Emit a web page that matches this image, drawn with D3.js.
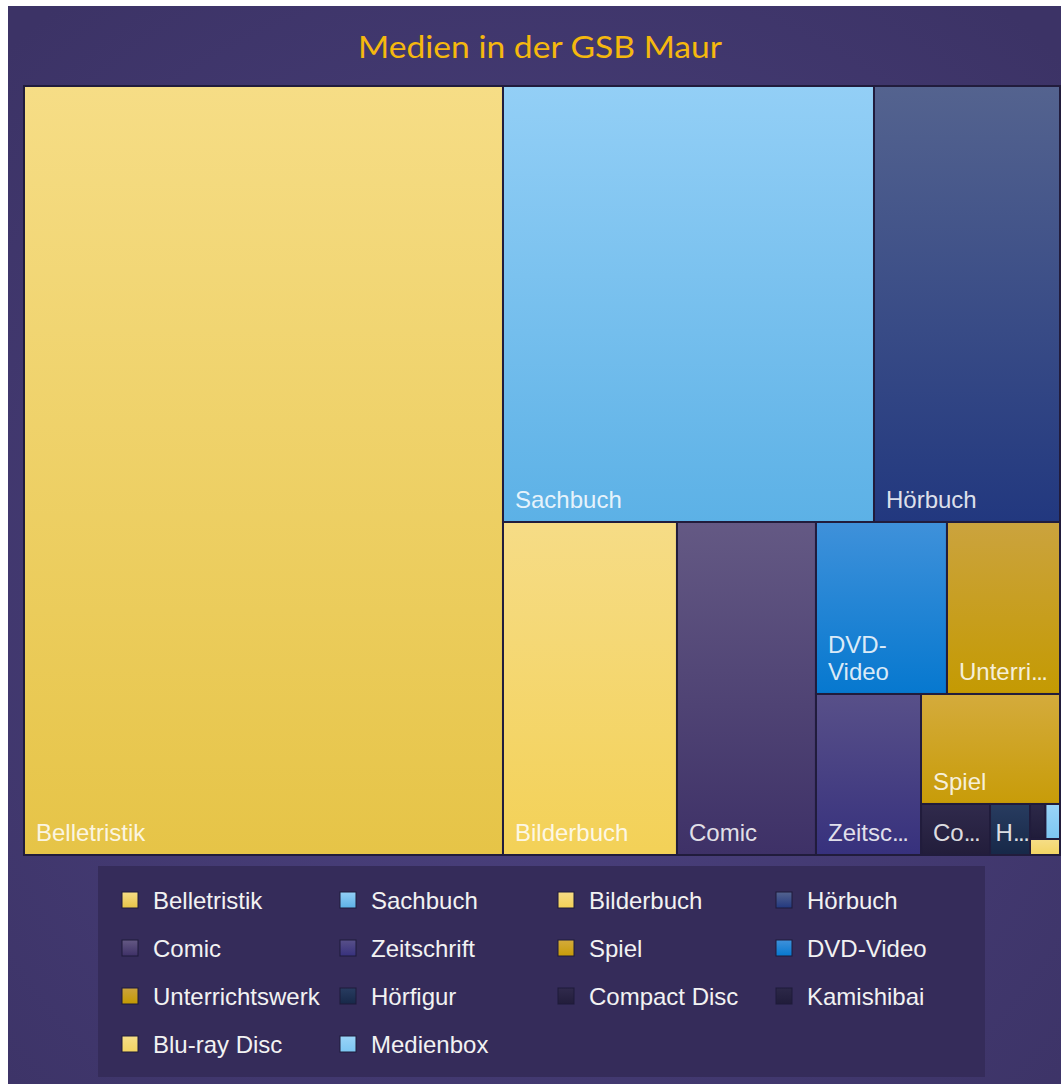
<!DOCTYPE html>
<html>
<head>
<meta charset="utf-8">
<script src="https://cdn.jsdelivr.net/npm/d3@7"></script>
<style>
  html, body { margin: 0; padding: 0; background: #ffffff; }
  svg { display: block; }
</style>
</head>
<body>
<svg id="chart" width="1061" height="1084"></svg>
<script>
// ---- Daten (Reihenfolge wie in der Legende)
const categories = [
  'Belletristik', 'Sachbuch', 'Bilderbuch', 'Hörbuch',
  'Comic', 'Zeitschrift', 'Spiel', 'DVD-Video',
  'Unterrichtswerk', 'Hörfigur', 'Compact Disc', 'Kamishibai',
  'Blu-ray Disc', 'Medienbox'
];
// Anteile, aus den Flächen im Bild geschätzt
const values = [
  36835, 16176, 5794, 8110,
  4629, 1691, 1529, 2253,
  1944, 204, 352, 54,
  48, 51
];
// Verlauf je Kategorie: oben heller, unten Grundfarbe
const colorsTop = [
  '#f6dd86', '#93cff6', '#f6dc86', '#54638f',
  '#645984', '#585089', '#d4ab3c', '#3f91da',
  '#cba33e', '#283c60', '#302a4c', '#2c2848',
  '#f6de88', '#9ad4f8'
];
const colorsBottom = [
  '#e6c447', '#5cb1e6', '#f3d157', '#22387f',
  '#3e3167', '#37317d', '#c89c08', '#0678cf',
  '#c49a02', '#172848', '#221d3b', '#201c3a',
  '#f2d462', '#7cc6f2'
];

const title = 'Medien in der GSB Maur';

const svg = d3.select('#chart');
const width = +svg.attr('width');
const height = +svg.attr('height');

const plot = { left: 24, top: 86, right: 1060, bottom: 855 };
const labelPad = 12;
const lineH = 27;
const labelFont = '24px "Liberation Sans", Arial, sans-serif';

const defs = svg.append('defs');

// ---- Hintergrund
const bg = defs.append('radialGradient')
  .attr('id', 'bg')
  .attr('gradientUnits', 'userSpaceOnUse')
  .attr('cx', 530).attr('cy', 600).attr('r', 760);
bg.append('stop').attr('offset', '0%').attr('stop-color', '#4d4382');
bg.append('stop').attr('offset', '100%').attr('stop-color', '#3c3366');

svg.append('rect')
  .attr('x', 8).attr('y', 6)
  .attr('width', width - 8).attr('height', height - 6)
  .attr('fill', 'url(#bg)');

categories.forEach((c, i) => {
  const g = defs.append('linearGradient')
    .attr('id', 'grad-' + i)
    .attr('x1', 0).attr('y1', 0).attr('x2', 0).attr('y2', 1);
  g.append('stop').attr('offset', '0%').attr('stop-color', colorsTop[i]);
  g.append('stop').attr('offset', '100%').attr('stop-color', colorsBottom[i]);
});

// ---- Titel
svg.append('text')
  .attr('x', 540)
  .attr('y', 58)
  .attr('text-anchor', 'middle')
  .attr('textLength', 364)
  .attr('lengthAdjust', 'spacingAndGlyphs')
  .style('font', '31px Lato, "Open Sans", sans-serif')
  .style('fill', '#f5b80e')
  .text(title);

// ---- Treemap: Streifen entlang der kürzeren Seite, Zellen möglichst hochformatig (h/b ~ phi)
const PHI = (1 + Math.sqrt(5)) / 2;

function rowBadness(row, sum, dx, dy, value, dice) {
  return d3.max(row, n => {
    const q = dice
      ? (dy * sum / value) / (dx * n.value / sum)
      : (dy * n.value / sum) / (dx * sum / value);
    return Math.max(q / PHI, PHI / q);
  });
}

function tilePortrait(parent, x0, y0, x1, y1) {
  const nodes = parent.children;
  let value = parent.value;
  let i0 = 0;
  while (i0 < nodes.length) {
    const dx = x1 - x0, dy = y1 - y0;
    const dice = dx < dy;
    let i1 = i0 + 1;
    let sum = nodes[i0].value;
    let best = rowBadness(nodes.slice(i0, i1), sum, dx, dy, value, dice);
    while (i1 < nodes.length) {
      const s = sum + nodes[i1].value;
      const b = rowBadness(nodes.slice(i0, i1 + 1), s, dx, dy, value, dice);
      if (b > best) break;
      best = b; sum = s; i1++;
    }
    const row = { value: sum, children: nodes.slice(i0, i1) };
    if (dice) d3.treemapDice(row, x0, y0, x1, value ? y0 += dy * sum / value : y1);
    else d3.treemapSlice(row, x0, y0, value ? x0 += dx * sum / value : x1, y1);
    value -= sum;
    i0 = i1;
  }
}

const data = categories.map((name, i) => ({ name, value: values[i], idx: i }));

const root = d3.hierarchy({ children: data })
  .sum(d => d.value)
  .sort((a, b) => b.value - a.value);

d3.treemap()
  .tile(tilePortrait)
  .size([plot.right - plot.left, plot.bottom - plot.top])(root);

const g = svg.append('g')
  .attr('transform', `translate(${plot.left}, ${plot.top})`);

const cell = g.selectAll('.cell')
  .data(root.leaves())
  .enter()
  .append('g')
  .attr('class', 'cell');

cell.append('rect')
  .attr('x', d => d.x0)
  .attr('y', d => d.y0)
  .attr('width', d => d.x1 - d.x0)
  .attr('height', d => d.y1 - d.y0)
  .attr('fill', d => `url(#grad-${d.data.idx})`)
  .attr('stroke', '#211c3c')
  .attr('stroke-width', 2);

// ---- Beschriftung unten links, umbrechen oder mit "..." kürzen
const measure = g.append('text').style('font', labelFont).attr('visibility', 'hidden');
const textW = s => measure.text(s).node().getComputedTextLength();
const dotsW = textW('...') - 4.5;

function fitLabel(name, w, h) {
  const maxW = w - labelPad - 6;
  const words = name.match(/[^\s-]+-?/g);
  const lines = [];
  let cur = words[0];
  for (let k = 1; k < words.length; k++) {
    const cand = cur + (cur.endsWith('-') ? '' : ' ') + words[k];
    if (textW(cand) <= maxW) cur = cand;
    else { lines.push(cur); cur = words[k]; }
  }
  lines.push(cur);
  if (lines.every(l => textW(l) <= maxW) && lines.length * lineH + 12 <= h) {
    return { lines, pad: labelPad, dots: false };
  }
  if (h < 40) return null;
  for (let k = name.length - 1; k >= 1; k--) {
    const s = name.slice(0, k);
    if (textW(s) + dotsW <= maxW) return { lines: [s], pad: labelPad, dots: true };
  }
  const one = name.slice(0, 1);
  const wOne = textW(one) + dotsW;
  if (wOne <= w - 6) return { lines: [one], pad: Math.max(4, (w - wOne) / 2 + 2), dots: true };
  return null;
}

cell.each(function (d) {
  const fit = fitLabel(d.data.name, d.x1 - d.x0, d.y1 - d.y0);
  if (!fit) return;
  const n = fit.lines.length;
  const t = d3.select(this).append('text')
    .style('font', labelFont)
    .style('fill', '#ffffff')
    .style('fill-opacity', 0.86);
  fit.lines.forEach((l, k) => {
    t.append('tspan')
      .attr('x', d.x0 + fit.pad)
      .attr('y', d.y1 - 14 - (n - 1 - k) * lineH)
      .text(l);
    if (fit.dots) {
      t.append('tspan').style('letter-spacing', '-1.5px').text('...');
    }
  });
});
measure.remove();

// ---- Legende
const legend = svg.append('g');
legend.append('rect')
  .attr('x', 98).attr('y', 866)
  .attr('width', 887).attr('height', 211)
  .attr('fill', '#352c5a');

const legCols = 4;
const legX = d3.scaleLinear().domain([0, 1]).range([122, 340]);
const legY = d3.scaleLinear().domain([0, 1]).range([900, 948]);

const item = legend.selectAll('.leg')
  .data(data)
  .enter()
  .append('g')
  .attr('class', 'leg')
  .attr('transform', (d, i) => `translate(${legX(i % legCols)}, ${legY(Math.floor(i / legCols))})`);

item.append('rect')
  .attr('x', 0).attr('y', -8)
  .attr('width', 16).attr('height', 16)
  .attr('fill', d => `url(#grad-${d.idx})`)
  .attr('stroke', '#1f1a3a')
  .attr('stroke-width', 1);

item.append('text')
  .attr('x', 31)
  .attr('y', 8.5)
  .style('font', labelFont)
  .style('fill', '#f2f2f2')
  .text(d => d.name);
</script>
</body>
</html>
